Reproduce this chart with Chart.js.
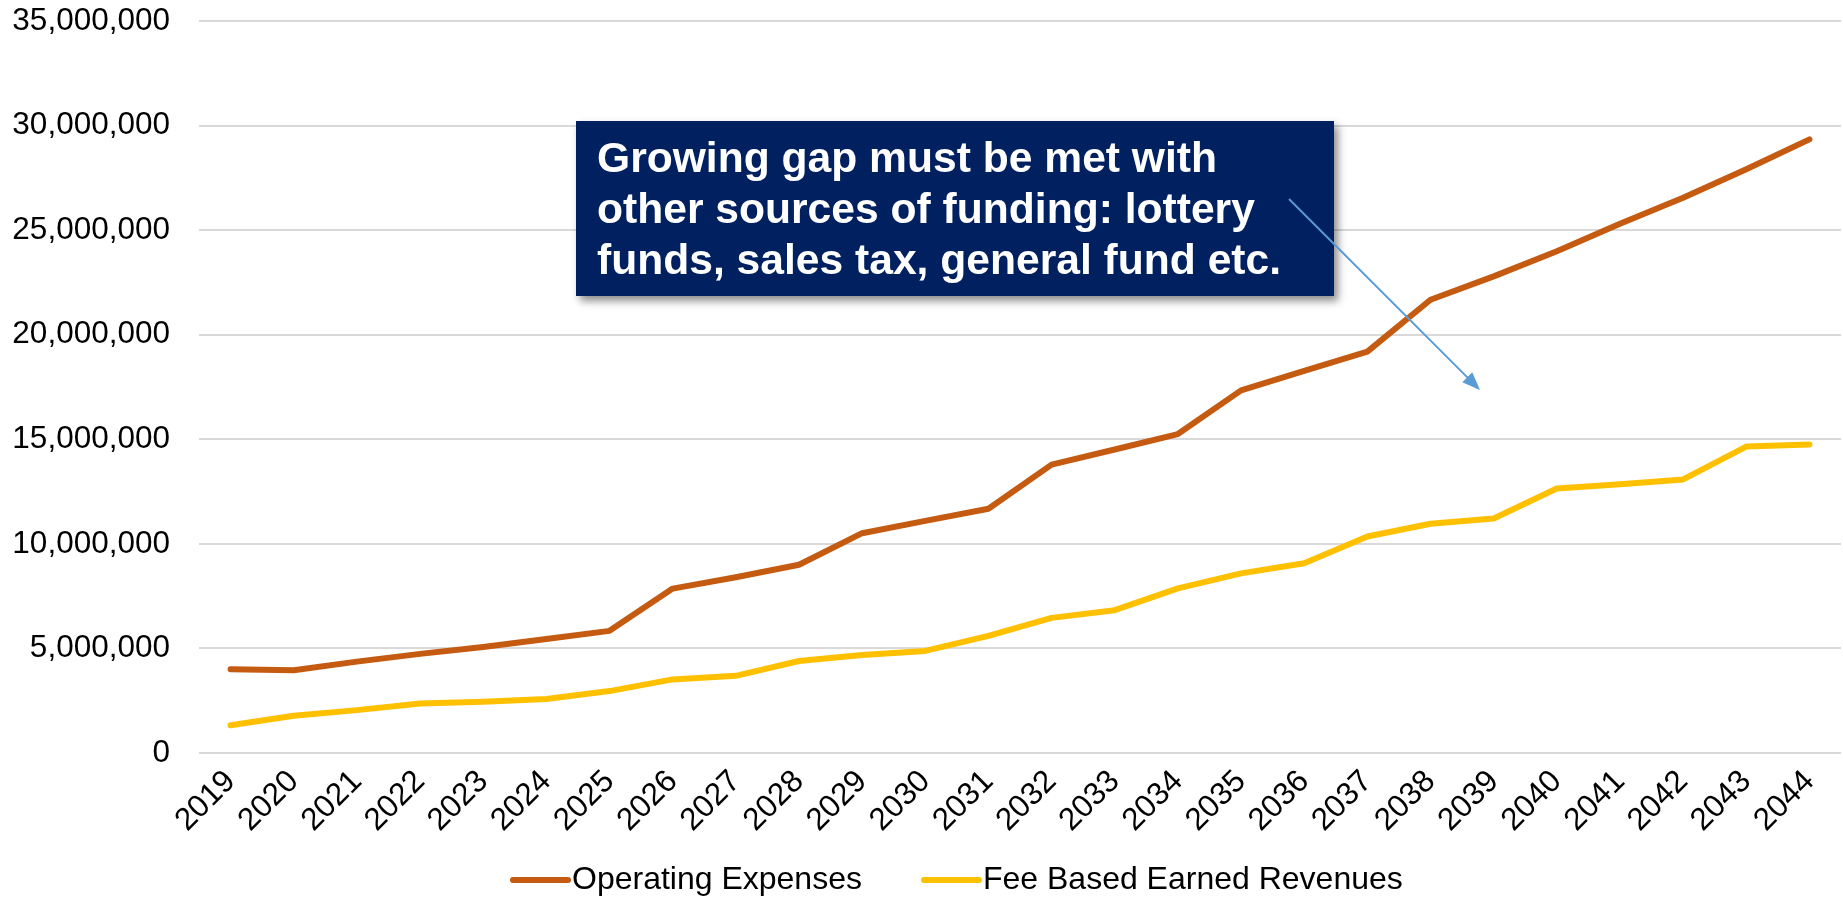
<!DOCTYPE html>
<html>
<head>
<meta charset="utf-8">
<script src="https://cdn.jsdelivr.net/npm/chart.js@4/dist/chart.umd.min.js"></script>
<style>
  html, body { margin: 0; padding: 0; background: #fff; }
</style>
</head>
<body>
<canvas id="myChart" width="1843" height="900"></canvas>
<script>

const years = ['2019', '2020', '2021', '2022', '2023', '2024', '2025', '2026', '2027', '2028', '2029', '2030', '2031',
  '2032', '2033', '2034', '2035', '2036', '2037', '2038', '2039', '2040', '2041', '2042', '2043', '2044'];

const operatingExpenses = [4000000, 3960000, 4370000, 4740000, 5070000, 5450000, 5840000, 7860000, 8400000, 9000000,
  10510000, 11100000, 11680000, 13790000, 14510000, 15250000, 17340000, 18270000, 19190000, 21670000,
  22790000, 23990000, 25310000, 26550000, 27910000, 29340000];

const feeBasedRevenues = [1330000, 1780000, 2050000, 2370000, 2450000, 2580000, 2960000, 3520000, 3690000, 4400000,
  4690000, 4880000, 5600000, 6460000, 6830000, 7870000, 8590000, 9070000, 10350000, 10960000,
  11210000, 12650000, 12850000, 13080000, 14650000, 14750000];

const yMax = 35000000;
const yStep = 5000000;

const calloutLines = [
  'Growing gap must be met with',
  'other sources of funding: lottery',
  'funds, sales tax, general fund etc.'
];

const FONT = '"Liberation Sans", Arial, sans-serif';

// callout box + arrow, and the legend at the bottom
const extras = {
  id: 'extras',
  afterDraw(chart) {
    const ctx = chart.ctx;

    // box with soft shadow
    ctx.save();
    ctx.shadowColor = 'rgba(0,0,0,0.45)';
    ctx.shadowBlur = 8;
    ctx.shadowOffsetX = 4;
    ctx.shadowOffsetY = 5;
    ctx.fillStyle = '#002060';
    ctx.fillRect(576, 121, 758, 175);
    ctx.restore();

    ctx.save();
    ctx.fillStyle = '#fff';
    ctx.font = 'bold 42.6px ' + FONT;
    ctx.textBaseline = 'alphabetic';
    calloutLines.forEach((t, i) => ctx.fillText(t, 597, 172 + i * 51));
    ctx.restore();

    // arrow
    const x1 = 1289, y1 = 199, x2 = 1480, y2 = 390;
    const ang = Math.atan2(y2 - y1, x2 - x1);
    ctx.save();
    ctx.strokeStyle = '#5B9BD5';
    ctx.fillStyle = '#5B9BD5';
    ctx.lineWidth = 2;
    ctx.beginPath();
    ctx.moveTo(x1, y1);
    ctx.lineTo(x2 - 14 * Math.cos(ang), y2 - 14 * Math.sin(ang));
    ctx.stroke();
    ctx.beginPath();
    ctx.moveTo(x2, y2);
    ctx.lineTo(x2 - 18 * Math.cos(ang) + 7 * Math.sin(ang), y2 - 18 * Math.sin(ang) - 7 * Math.cos(ang));
    ctx.lineTo(x2 - 18 * Math.cos(ang) - 7 * Math.sin(ang), y2 - 18 * Math.sin(ang) + 7 * Math.cos(ang));
    ctx.closePath();
    ctx.fill();
    ctx.restore();

    // legend
    ctx.save();
    ctx.font = '32px ' + FONT;
    ctx.textBaseline = 'middle';
    let lx = 513;
    const ly = 880;
    chart.data.datasets.forEach((ds) => {
      ctx.strokeStyle = ds.borderColor;
      ctx.lineWidth = 6;
      ctx.lineCap = 'round';
      ctx.beginPath();
      ctx.moveTo(lx, ly);
      ctx.lineTo(lx + 55, ly);
      ctx.stroke();
      ctx.fillStyle = '#000';
      ctx.fillText(ds.label, lx + 59, ly);
      lx += 59 + ctx.measureText(ds.label).width + 62;
    });
    ctx.restore();
  }
};

const data = {
  labels: years,
  datasets: [
    {
      label: 'Operating Expenses',
      data: operatingExpenses,
      borderColor: '#C55A11',
      backgroundColor: '#C55A11',
      borderWidth: 6,
      pointRadius: 0,
      tension: 0,
      borderCapStyle: 'round',
      borderJoinStyle: 'round'
    },
    {
      label: 'Fee Based Earned Revenues',
      data: feeBasedRevenues,
      borderColor: '#FFC000',
      backgroundColor: '#FFC000',
      borderWidth: 6,
      pointRadius: 0,
      tension: 0,
      borderCapStyle: 'round',
      borderJoinStyle: 'round'
    }
  ]
};

const config = {
  type: 'line',
  data: data,
  options: {
    responsive: false,
    animation: false,
    layout: { padding: { left: 0, right: 2, top: 21, bottom: 47 } },
    plugins: {
      legend: { display: false },
      tooltip: { enabled: false }
    },
    scales: {
      x: {
        offset: true,
        grid: { display: false, drawTicks: false },
        border: { display: false },
        ticks: {
          color: '#000',
          font: { family: FONT, size: 31.5 },
          minRotation: 45,
          maxRotation: 45,
          autoSkip: false,
          padding: 10
        },
        afterFit(scale) { scale.height = 100; scale.paddingLeft = 0; scale.paddingRight = 0; }
      },
      y: {
        min: 0,
        max: yMax,
        grid: { color: '#D9D9D9', lineWidth: 2, drawTicks: false },
        border: { display: false },
        ticks: {
          stepSize: yStep,
          color: '#000',
          font: { family: FONT, size: 31.5 },
          padding: 29,
          callback: (v) => v.toLocaleString('en-US')
        },
        afterFit(scale) { scale.width = 199; scale.paddingTop = 0; scale.paddingBottom = 0; }
      }
    }
  },
  plugins: [extras]
};

const myChart = new Chart(document.getElementById('myChart'), config);
</script>
</body>
</html>
